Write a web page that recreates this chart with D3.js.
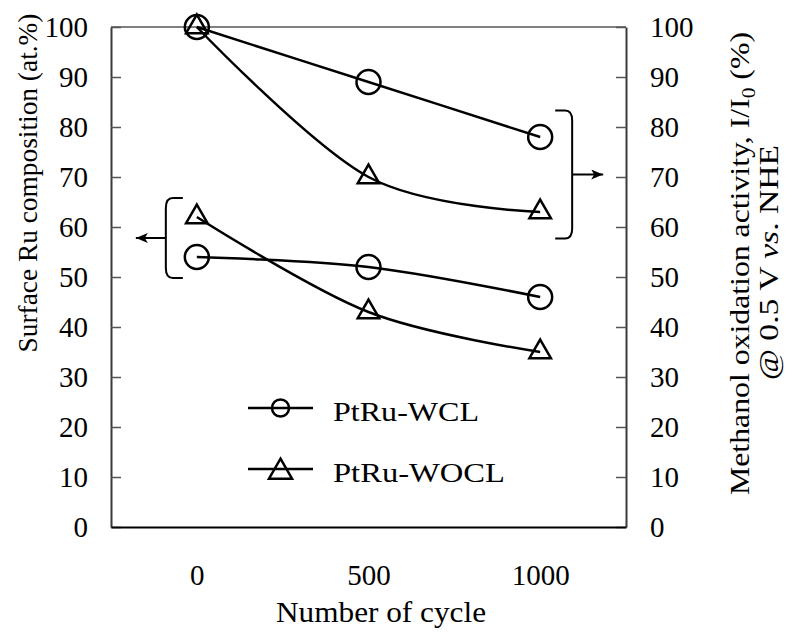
<!DOCTYPE html>
<html>
<head>
<meta charset="utf-8">
<script src="https://cdn.jsdelivr.net/npm/d3@7"></script>
<style>
  html, body { margin: 0; padding: 0; background: #fff; }
  svg { display: block; }
</style>
</head>
<body>
<svg id="chart" width="792" height="641"></svg>
<script>
// Number of potential cycles
const categories = ["0", "500", "1000"];

// Methanol oxidation activity I/I0 (%), right axis
const activityWCL = [100, 89, 78];
const activityWOCL = [100, 70, 63];

// Surface Ru composition (at.%), left axis
const rutheniumWCL = [54, 52, 46];
const rutheniumWOCL = [62, 43, 35];

const yTickValues = [0, 10, 20, 30, 40, 50, 60, 70, 80, 90, 100];
const seriesNames = ["PtRu-WCL", "PtRu-WOCL"];

const FONT = '"Liberation Serif"';

const svg = d3.select("#chart").attr("font-family", FONT);
const plotLeft = 111, plotRight = 626, plotTop = 27, plotBottom = 527;

const x = d3.scalePoint().domain(categories).range([plotLeft, plotRight]).padding(0.5);
const yLeft = d3.scaleLinear().domain([0, 100]).range([plotBottom, plotTop]);
const yRight = d3.scaleLinear().domain([0, 100]).range([plotBottom, plotTop]);

// frame: top edge
svg.append("line").attr("x1", plotLeft).attr("x2", plotRight).attr("y1", plotTop).attr("y2", plotTop)
  .attr("stroke", "#808080").attr("stroke-width", 2);

// left axis with inward ticks
const gl = svg.append("g").attr("transform", `translate(${plotLeft},0)`)
  .call(d3.axisLeft(yLeft).tickValues(yTickValues).tickSizeInner(-10).tickSizeOuter(0).tickPadding(23));
// right axis with inward ticks
const gr = svg.append("g").attr("transform", `translate(${plotRight},0)`)
  .call(d3.axisRight(yRight).tickValues(yTickValues).tickSizeInner(-10).tickSizeOuter(0).tickPadding(24));
[gl, gr].forEach(g => {
  g.attr("font-family", FONT).attr("font-size", 29);
  g.select(".domain").attr("stroke", "#3a3a3a").attr("stroke-width", 2);
  g.selectAll(".tick line").attr("stroke", "#555").attr("stroke-width", 1.5);
  g.selectAll(".tick text").attr("fill", "#000")
    .attr("font-family", FONT).attr("font-size", 29);
});

// bottom axis, labels only
const gb = svg.append("g").attr("transform", `translate(0,${plotBottom})`)
  .call(d3.axisBottom(x).tickSize(0).tickPadding(0));
gb.attr("font-family", FONT).attr("font-size", 29);
gb.select(".domain").attr("stroke", "#000").attr("stroke-width", 2);
gb.selectAll(".tick text").attr("y", 58).attr("dy", 0).attr("fill", "#000")
  .attr("font-family", FONT).attr("font-size", 29);

// series
const series = [
  { name: seriesNames[0], values: activityWCL, y: yRight, marker: "circle" },
  { name: seriesNames[1], values: activityWOCL, y: yRight, marker: "triangle" },
  { name: seriesNames[0], values: rutheniumWCL, y: yLeft, marker: "circle" },
  { name: seriesNames[1], values: rutheniumWOCL, y: yLeft, marker: "triangle" }
];

const line = d3.line().curve(d3.curveCardinal.tension(0));

function drawMarker(g, kind, cx, cy, r, triSize) {
  if (kind === "circle") {
    g.append("circle").attr("cx", cx).attr("cy", cy).attr("r", r)
      .attr("fill", "none").attr("stroke", "#000").attr("stroke-width", 2.5);
  } else {
    g.append("path").attr("d", d3.symbol().type(d3.symbolTriangle).size(triSize)())
      .attr("transform", `translate(${cx},${cy})`)
      .attr("fill", "none").attr("stroke", "#000").attr("stroke-width", 2.5);
  }
}

series.forEach(s => {
  const pts = categories.map((c, i) => [x(c), s.y(s.values[i])]);
  svg.append("path").attr("d", line(pts)).attr("fill", "none")
    .attr("stroke", "#000").attr("stroke-width", 2.5);
  const g = svg.append("g");
  pts.forEach(p => drawMarker(g, s.marker, p[0], p[1], 12, 200));
});

// brackets grouping each axis' pair of curves, with arrows toward the axis
const defs = svg.append("defs");
defs.append("marker").attr("id", "arrowHead").attr("viewBox", "0 0 12 10")
  .attr("refX", 12).attr("refY", 5).attr("markerWidth", 12).attr("markerHeight", 10)
  .attr("markerUnits", "userSpaceOnUse").attr("orient", "auto")
  .append("path").attr("d", "M0,0 L12,5 L0,10 L3,5 Z").attr("fill", "#000");

function bracket(xEdge, yTop, yBot, dir, arrowY, arrowLen) {
  const r = 10, arm = 17;
  const d = `M${xEdge - dir * arm},${yTop} L${xEdge - dir * (arm - r)},${yTop}` +
    ` Q${xEdge},${yTop} ${xEdge},${yTop + r} L${xEdge},${yBot - r}` +
    ` Q${xEdge},${yBot} ${xEdge - dir * (arm - r)},${yBot} L${xEdge - dir * arm},${yBot}`;
  svg.append("path").attr("d", d).attr("fill", "none").attr("stroke", "#000").attr("stroke-width", 2);
  svg.append("line").attr("x1", xEdge).attr("x2", xEdge + dir * arrowLen)
    .attr("y1", arrowY).attr("y2", arrowY).attr("stroke", "#000").attr("stroke-width", 2)
    .attr("marker-end", "url(#arrowHead)");
}

{
  const lastCat = categories[categories.length - 1];
  const hi = Math.max(activityWCL[2], activityWOCL[2]) + 5.3;
  const lo = Math.min(activityWCL[2], activityWOCL[2]) - 5.3;
  bracket(x(lastCat) + 32, yRight(hi), yRight(lo), 1, yRight((hi + lo) / 2), 31);
}
{
  const firstCat = categories[0];
  const hi = Math.max(rutheniumWCL[0], rutheniumWOCL[0]) + 3.8;
  const lo = Math.min(rutheniumWCL[0], rutheniumWOCL[0]) - 4.2;
  bracket(x(firstCat) - 31, yLeft(hi), yLeft(lo), -1, yLeft((hi + lo) / 2), 30);
}

// legend
const legend = svg.append("g");
const legendLengths = [146, 172];
seriesNames.forEach((name, i) => {
  const ly = 408 + i * 61;
  legend.append("line").attr("x1", 248).attr("x2", 313).attr("y1", ly).attr("y2", ly)
    .attr("stroke", "#000").attr("stroke-width", 2.5);
  if (i === 0) drawMarker(legend, "circle", 280.5, ly, 8.5, 0);
  else drawMarker(legend, "triangle", 280.5, ly + 3, 0, 230);
  legend.append("text").attr("x", 333).attr("y", ly + 12.5)
    .attr("font-family", FONT).attr("font-size", 28).attr("textLength", legendLengths[i])
    .attr("lengthAdjust", "spacingAndGlyphs").text(name);
});

// axis titles
svg.append("text").attr("transform", "translate(37,183) rotate(-90)")
  .attr("text-anchor", "middle").attr("font-family", FONT).attr("font-size", 28)
  .attr("textLength", 339).attr("lengthAdjust", "spacingAndGlyphs")
  .text("Surface Ru composition (at.%)");

svg.append("text").attr("x", 381).attr("y", 622).attr("text-anchor", "middle")
  .attr("font-family", FONT).attr("font-size", 29)
  .attr("textLength", 210).attr("lengthAdjust", "spacingAndGlyphs")
  .text("Number of cycle");

const rt1 = svg.append("text").attr("transform", "translate(749,263.5) rotate(-90)")
  .attr("text-anchor", "middle").attr("font-family", FONT).attr("font-size", 28)
  .attr("textLength", 463).attr("lengthAdjust", "spacingAndGlyphs");
rt1.append("tspan").text("Methanol oxidation activity, I/I");
rt1.append("tspan").attr("font-size", 19).attr("dy", 6).text("0");
rt1.append("tspan").attr("dy", -6).text(" (%)");

const rt2 = svg.append("text").attr("transform", "translate(778,262.5) rotate(-90)")
  .attr("text-anchor", "middle").attr("font-family", FONT).attr("font-size", 28)
  .attr("textLength", 235).attr("lengthAdjust", "spacingAndGlyphs");
rt2.append("tspan").text("@ 0.5 V ");
rt2.append("tspan").attr("font-style", "italic").text("vs");
rt2.append("tspan").text(". NHE");
</script>
</body>
</html>
